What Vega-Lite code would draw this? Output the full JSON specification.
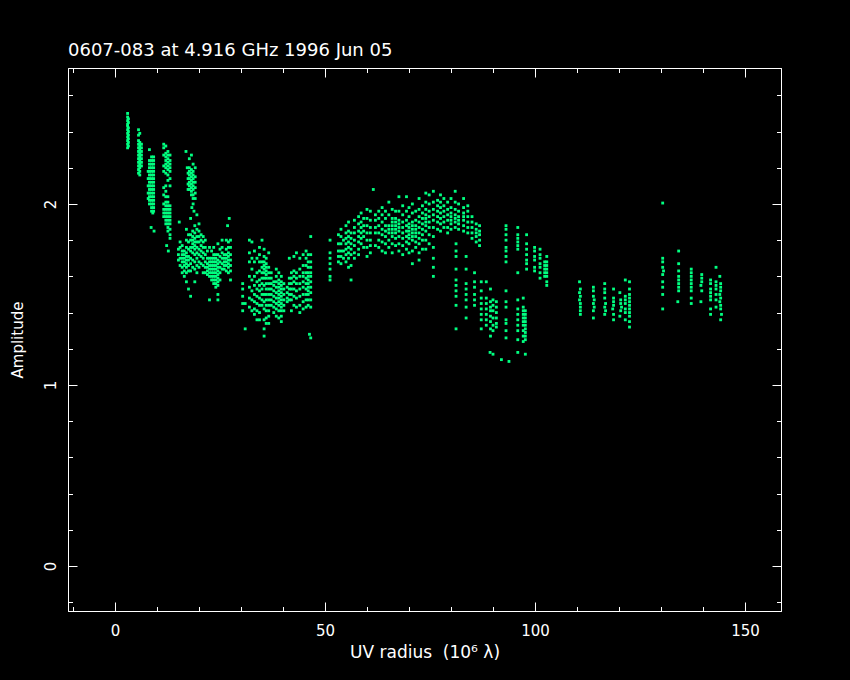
{"$schema":"https://vega.github.io/schema/vega-lite/v6.json","width":713,"height":543,"autosize":"none","padding":{"left":68,"top":68,"right":69,"bottom":69},"background":"#000000","title":{"text":"0607-083 at 4.916 GHz 1996 Jun 05","anchor":"start","frame":"group","color":"#ffffff","font":"DejaVu Sans","fontSize":18,"fontWeight":"normal","offset":8},"config":{"view":{"stroke":"#ffffff","strokeWidth":1,"fill":"#000000"},"axis":{"grid":false,"domain":true,"domainColor":"#ffffff","domainWidth":1,"tickColor":"#ffffff","tickWidth":1,"labelColor":"#ffffff","titleColor":"#ffffff","labelFont":"DejaVu Sans","titleFont":"DejaVu Sans","labelFontSize":15,"titleFontSize":15,"titleFontWeight":"normal","labelFlush":false,"labelOverlap":false}},"resolve":{"axis":{"x":"independent","y":"independent"}},"layer":[{"data":{"values":[
{"r":3.0,"a":2.5},{"r":3.0,"a":2.48},{"r":3.0,"a":2.46},{"r":3.0,"a":2.44},{"r":3.0,"a":2.43},{"r":3.0,"a":2.41},{"r":3.0,"a":2.39},{"r":3.0,"a":2.37},{"r":3.0,"a":2.35},{"r":3.0,"a":2.33},{"r":3.0,"a":2.31},{"r":3.2,"a":2.47},{"r":3.2,"a":2.45},{"r":3.2,"a":2.42},{"r":3.2,"a":2.4},{"r":3.2,"a":2.38},{"r":3.2,"a":2.36},{"r":3.2,"a":2.34},{"r":3.2,"a":2.32},
{"r":5.6,"a":2.41},{"r":5.6,"a":2.38},{"r":5.6,"a":2.35},{"r":5.6,"a":2.33},{"r":5.6,"a":2.31},{"r":5.6,"a":2.29},{"r":5.6,"a":2.27},{"r":5.6,"a":2.25},{"r":5.6,"a":2.23},{"r":5.6,"a":2.21},{"r":5.6,"a":2.19},{"r":5.6,"a":2.17},{"r":5.9,"a":2.39},{"r":5.9,"a":2.34},{"r":5.9,"a":2.32},{"r":5.9,"a":2.3},{"r":5.9,"a":2.28},{"r":5.9,"a":2.26},{"r":5.9,"a":2.24},{"r":5.9,"a":2.22},{"r":5.9,"a":2.2},{"r":5.9,"a":2.18},{"r":5.9,"a":2.16},{"r":6.3,"a":2.33},{"r":6.3,"a":2.31},{"r":6.3,"a":2.29},{"r":6.3,"a":2.27},{"r":6.3,"a":2.25},{"r":6.3,"a":2.23},{"r":6.3,"a":2.21},
{"r":7.9,"a":2.18},{"r":7.9,"a":2.14},{"r":7.9,"a":2.1},{"r":7.9,"a":2.06},{"r":7.9,"a":2.03},{"r":8.2,"a":2.3},{"r":8.2,"a":2.24},{"r":8.2,"a":2.22},{"r":8.2,"a":2.2},{"r":8.2,"a":2.18},{"r":8.2,"a":2.16},{"r":8.2,"a":2.14},{"r":8.2,"a":2.12},{"r":8.2,"a":2.1},{"r":8.2,"a":2.08},{"r":8.2,"a":2.06},{"r":8.2,"a":2.04},{"r":8.2,"a":2.02},{"r":8.2,"a":2},{"r":8.7,"a":2.26},{"r":8.7,"a":2.24},{"r":8.7,"a":2.22},{"r":8.7,"a":2.2},{"r":8.7,"a":2.18},{"r":8.7,"a":2.16},{"r":8.7,"a":2.14},{"r":8.7,"a":2.12},{"r":8.7,"a":2.1},{"r":8.7,"a":2.08},{"r":8.7,"a":2.06},{"r":8.7,"a":2.04},{"r":8.7,"a":2.02},{"r":8.7,"a":2},{"r":8.7,"a":1.98},{"r":8.7,"a":1.96},{"r":9.2,"a":2.26},{"r":9.2,"a":2.24},{"r":9.2,"a":2.22},{"r":9.2,"a":2.2},{"r":9.2,"a":2.18},{"r":9.2,"a":2.16},{"r":9.2,"a":2.14},{"r":9.2,"a":2.12},{"r":9.2,"a":2.1},{"r":9.2,"a":2.08},{"r":9.2,"a":2.06},{"r":9.2,"a":2.04},{"r":9.2,"a":2.02},{"r":9.2,"a":2},{"r":9.2,"a":1.98},{"r":9.2,"a":1.96},{"r":8.6,"a":1.87},{"r":9.3,"a":1.85},{"r":9.0,"a":1.95},
{"r":11.6,"a":2.33},{"r":11.6,"a":2.31},{"r":11.6,"a":2.27},{"r":11.6,"a":2.21},{"r":11.6,"a":2.18},{"r":11.6,"a":2.09},{"r":11.6,"a":2.05},{"r":11.6,"a":2},{"r":11.6,"a":1.97},{"r":11.6,"a":1.95},{"r":11.6,"a":1.93},{"r":12.1,"a":2.32},{"r":12.1,"a":2.28},{"r":12.1,"a":2.26},{"r":12.1,"a":2.24},{"r":12.1,"a":2.22},{"r":12.1,"a":2.2},{"r":12.1,"a":2.17},{"r":12.1,"a":2.1},{"r":12.1,"a":2.07},{"r":12.1,"a":2.04},{"r":12.1,"a":2.01},{"r":12.1,"a":1.99},{"r":12.1,"a":1.97},{"r":12.1,"a":1.95},{"r":12.1,"a":1.93},{"r":12.1,"a":1.91},{"r":12.1,"a":1.89},{"r":12.6,"a":2.29},{"r":12.6,"a":2.27},{"r":12.6,"a":2.25},{"r":12.6,"a":2.23},{"r":12.6,"a":2.21},{"r":12.6,"a":2.19},{"r":12.6,"a":2.16},{"r":12.6,"a":2.13},{"r":12.6,"a":2.04},{"r":12.6,"a":2.01},{"r":12.6,"a":1.99},{"r":12.6,"a":1.97},{"r":12.6,"a":1.95},{"r":12.6,"a":1.93},{"r":12.6,"a":1.91},{"r":12.6,"a":1.89},{"r":12.6,"a":1.87},{"r":12.6,"a":1.85},{"r":13.1,"a":2.27},{"r":13.1,"a":2.24},{"r":13.1,"a":2.22},{"r":13.1,"a":2.2},{"r":13.1,"a":2.18},{"r":13.1,"a":2.14},{"r":13.1,"a":2.1},{"r":13.1,"a":1.99},{"r":13.1,"a":1.97},{"r":13.1,"a":1.95},{"r":13.1,"a":1.93},{"r":13.1,"a":1.91},{"r":13.1,"a":1.89},{"r":13.1,"a":1.86},{"r":13.1,"a":1.83},{"r":13.1,"a":1.81},{"r":12.3,"a":1.77},{"r":12.7,"a":1.74},
{"r":16.9,"a":2.29},{"r":17.2,"a":2.2},{"r":17.4,"a":2.17},{"r":17.4,"a":2.14},{"r":17.4,"a":2.11},{"r":17.4,"a":2.08},{"r":17.7,"a":2.25},{"r":17.7,"a":2.2},{"r":17.7,"a":2.18},{"r":17.7,"a":2.16},{"r":17.7,"a":2.14},{"r":17.7,"a":2.12},{"r":17.7,"a":2.1},{"r":17.7,"a":2.08},{"r":18.2,"a":2.27},{"r":18.2,"a":2.19},{"r":18.2,"a":2.17},{"r":18.2,"a":2.15},{"r":18.2,"a":2.13},{"r":18.2,"a":2.11},{"r":18.2,"a":2.09},{"r":18.2,"a":2.07},{"r":18.2,"a":2.05},{"r":18.6,"a":2.22},{"r":18.6,"a":2.18},{"r":18.6,"a":2.16},{"r":18.6,"a":2.14},{"r":18.6,"a":2.12},{"r":18.6,"a":2.1},{"r":18.6,"a":2.08},{"r":18.6,"a":2.05},{"r":18.6,"a":2.03},{"r":18.6,"a":2},{"r":19.1,"a":2.2},{"r":19.1,"a":2.15},{"r":19.1,"a":2.12},{"r":19.1,"a":2.09},{"r":19.1,"a":2.06},{"r":19.1,"a":2.03},{"r":18.3,"a":1.98},{"r":18.8,"a":1.96},
{"r":15.1,"a":1.75},{"r":15.1,"a":1.72},{"r":15.1,"a":1.69},{"r":15.3,"a":1.9},{"r":15.5,"a":1.79},{"r":15.5,"a":1.76},{"r":15.5,"a":1.7},{"r":15.5,"a":1.66},{"r":16,"a":1.77},{"r":16,"a":1.74},{"r":16,"a":1.72},{"r":16,"a":1.7},{"r":16,"a":1.68},{"r":16,"a":1.65},{"r":16,"a":1.62},{"r":16.5,"a":1.74},{"r":16.5,"a":1.72},{"r":16.5,"a":1.7},{"r":16.5,"a":1.68},{"r":16.5,"a":1.66},{"r":16.5,"a":1.63},{"r":16.5,"a":1.6},{"r":17,"a":1.86},{"r":17,"a":1.8},{"r":17,"a":1.76},{"r":17,"a":1.73},{"r":17,"a":1.71},{"r":17,"a":1.69},{"r":17,"a":1.67},{"r":17,"a":1.65},{"r":17,"a":1.62},{"r":17,"a":1.57},{"r":17.5,"a":1.83},{"r":17.5,"a":1.79},{"r":17.5,"a":1.75},{"r":17.5,"a":1.71},{"r":17.5,"a":1.69},{"r":17.5,"a":1.66},{"r":17.5,"a":1.63},{"r":17.5,"a":1.53},{"r":18,"a":1.92},{"r":18,"a":1.83},{"r":18,"a":1.8},{"r":18,"a":1.76},{"r":18,"a":1.74},{"r":18,"a":1.7},{"r":18,"a":1.67},{"r":18,"a":1.63},{"r":18,"a":1.49},{"r":18.5,"a":1.85},{"r":18.5,"a":1.82},{"r":18.5,"a":1.8},{"r":18.5,"a":1.78},{"r":18.5,"a":1.76},{"r":18.5,"a":1.73},{"r":18.5,"a":1.69},{"r":18.5,"a":1.65},{"r":19,"a":1.88},{"r":19,"a":1.84},{"r":19,"a":1.81},{"r":19,"a":1.79},{"r":19,"a":1.77},{"r":19,"a":1.75},{"r":19,"a":1.72},{"r":19,"a":1.68},{"r":19,"a":1.64},{"r":19,"a":1.57},{"r":19.5,"a":1.94},{"r":19.5,"a":1.86},{"r":19.5,"a":1.82},{"r":19.5,"a":1.79},{"r":19.5,"a":1.76},{"r":19.5,"a":1.73},{"r":19.5,"a":1.7},{"r":19.5,"a":1.66},{"r":19.5,"a":1.62},{"r":20,"a":1.89},{"r":20,"a":1.85},{"r":20,"a":1.82},{"r":20,"a":1.79},{"r":20,"a":1.75},{"r":20,"a":1.72},{"r":20,"a":1.68},{"r":20,"a":1.65},{"r":20.5,"a":1.83},{"r":20.5,"a":1.8},{"r":20.5,"a":1.77},{"r":20.5,"a":1.74},{"r":20.5,"a":1.71},{"r":20.5,"a":1.67},{"r":21,"a":1.82},{"r":21,"a":1.79},{"r":21,"a":1.76},{"r":21,"a":1.73},{"r":21,"a":1.7},{"r":21,"a":1.66},{"r":21,"a":1.62},{"r":21.5,"a":1.8},{"r":21.5,"a":1.76},{"r":21.5,"a":1.72},{"r":21.5,"a":1.68},{"r":21.5,"a":1.65},{"r":21.5,"a":1.62},{"r":22,"a":1.74},{"r":22,"a":1.7},{"r":22,"a":1.67},{"r":22,"a":1.65},{"r":22,"a":1.63},{"r":22,"a":1.61},{"r":22.5,"a":1.76},{"r":22.5,"a":1.7},{"r":22.5,"a":1.68},{"r":22.5,"a":1.66},{"r":22.5,"a":1.64},{"r":22.5,"a":1.62},{"r":22.5,"a":1.6},{"r":22.5,"a":1.47},{"r":23,"a":1.74},{"r":23,"a":1.7},{"r":23,"a":1.68},{"r":23,"a":1.66},{"r":23,"a":1.64},{"r":23,"a":1.62},{"r":23,"a":1.6},{"r":23,"a":1.58},{"r":23.5,"a":1.76},{"r":23.5,"a":1.72},{"r":23.5,"a":1.7},{"r":23.5,"a":1.68},{"r":23.5,"a":1.66},{"r":23.5,"a":1.64},{"r":23.5,"a":1.62},{"r":23.5,"a":1.6},{"r":23.5,"a":1.58},{"r":23.5,"a":1.56},{"r":24,"a":1.72},{"r":24,"a":1.7},{"r":24,"a":1.68},{"r":24,"a":1.66},{"r":24,"a":1.64},{"r":24,"a":1.62},{"r":24,"a":1.6},{"r":24,"a":1.58},{"r":24,"a":1.56},{"r":24,"a":1.54},{"r":24.5,"a":1.78},{"r":24.5,"a":1.72},{"r":24.5,"a":1.69},{"r":24.5,"a":1.67},{"r":24.5,"a":1.65},{"r":24.5,"a":1.63},{"r":24.5,"a":1.61},{"r":24.5,"a":1.59},{"r":24.5,"a":1.57},{"r":24.5,"a":1.55},{"r":24.5,"a":1.5},{"r":24.5,"a":1.47},{"r":25,"a":1.75},{"r":25,"a":1.71},{"r":25,"a":1.68},{"r":25,"a":1.65},{"r":25,"a":1.62},{"r":25,"a":1.58},{"r":25.5,"a":1.8},{"r":25.5,"a":1.76},{"r":25.5,"a":1.73},{"r":25.5,"a":1.7},{"r":25.5,"a":1.67},{"r":25.5,"a":1.64},{"r":26,"a":1.72},{"r":26,"a":1.7},{"r":26,"a":1.68},{"r":26,"a":1.66},{"r":26,"a":1.64},{"r":26.5,"a":1.8},{"r":26.5,"a":1.75},{"r":26.5,"a":1.72},{"r":26.5,"a":1.7},{"r":26.5,"a":1.68},{"r":26.5,"a":1.66},{"r":26.5,"a":1.63},{"r":27,"a":1.79},{"r":27,"a":1.76},{"r":27,"a":1.73},{"r":27,"a":1.71},{"r":27,"a":1.69},{"r":27,"a":1.67},{"r":27,"a":1.65},{"r":27,"a":1.62},{"r":27.5,"a":1.8},{"r":27.5,"a":1.76},{"r":27.5,"a":1.72},{"r":27.5,"a":1.69},{"r":27.5,"a":1.66},{"r":27.5,"a":1.63},{"r":27.5,"a":1.58},{"r":27.2,"a":1.92},{"r":26.8,"a":1.88},
{"r":30.4,"a":1.56},{"r":30.4,"a":1.53},{"r":30.4,"a":1.49},{"r":30.4,"a":1.45},{"r":30.4,"a":1.41},{"r":31,"a":1.45},{"r":31,"a":1.31},{"r":32,"a":1.8},{"r":32,"a":1.73},{"r":32,"a":1.68},{"r":32,"a":1.6},{"r":32,"a":1.54},{"r":32,"a":1.48},{"r":32,"a":1.43},{"r":32.6,"a":1.79},{"r":32.6,"a":1.7},{"r":32.6,"a":1.64},{"r":32.6,"a":1.58},{"r":32.6,"a":1.52},{"r":32.6,"a":1.47},{"r":32.6,"a":1.41},{"r":33.2,"a":1.74},{"r":33.2,"a":1.68},{"r":33.2,"a":1.6},{"r":33.2,"a":1.55},{"r":33.2,"a":1.5},{"r":33.2,"a":1.46},{"r":33.2,"a":1.42},{"r":33.2,"a":1.39},{"r":33.8,"a":1.7},{"r":33.8,"a":1.62},{"r":33.8,"a":1.57},{"r":33.8,"a":1.53},{"r":33.8,"a":1.49},{"r":33.8,"a":1.45},{"r":33.8,"a":1.41},{"r":33.8,"a":1.36},{"r":34.4,"a":1.76},{"r":34.4,"a":1.72},{"r":34.4,"a":1.68},{"r":34.4,"a":1.63},{"r":34.4,"a":1.58},{"r":34.4,"a":1.55},{"r":34.4,"a":1.52},{"r":34.4,"a":1.48},{"r":34.4,"a":1.44},{"r":34.4,"a":1.4},{"r":34.4,"a":1.36},{"r":35,"a":1.8},{"r":35,"a":1.68},{"r":35,"a":1.65},{"r":35,"a":1.62},{"r":35,"a":1.59},{"r":35,"a":1.56},{"r":35,"a":1.53},{"r":35,"a":1.5},{"r":35,"a":1.47},{"r":35,"a":1.44},{"r":35.5,"a":1.75},{"r":35.5,"a":1.71},{"r":35.5,"a":1.68},{"r":35.5,"a":1.66},{"r":35.5,"a":1.64},{"r":35.5,"a":1.62},{"r":35.5,"a":1.59},{"r":35.5,"a":1.55},{"r":35.5,"a":1.5},{"r":35.5,"a":1.46},{"r":35.5,"a":1.42},{"r":35.5,"a":1.36},{"r":35.5,"a":1.31},{"r":35.5,"a":1.27},{"r":36,"a":1.7},{"r":36,"a":1.67},{"r":36,"a":1.65},{"r":36,"a":1.63},{"r":36,"a":1.61},{"r":36,"a":1.59},{"r":36,"a":1.56},{"r":36,"a":1.53},{"r":36,"a":1.5},{"r":36,"a":1.47},{"r":36,"a":1.44},{"r":36,"a":1.41},{"r":36,"a":1.37},{"r":36,"a":1.34},{"r":36.6,"a":1.73},{"r":36.6,"a":1.65},{"r":36.6,"a":1.62},{"r":36.6,"a":1.59},{"r":36.6,"a":1.56},{"r":36.6,"a":1.53},{"r":36.6,"a":1.5},{"r":36.6,"a":1.47},{"r":36.6,"a":1.44},{"r":36.6,"a":1.41},{"r":36.6,"a":1.38},{"r":36.6,"a":1.34},{"r":37.2,"a":1.62},{"r":37.2,"a":1.59},{"r":37.2,"a":1.56},{"r":37.2,"a":1.53},{"r":37.2,"a":1.5},{"r":37.2,"a":1.47},{"r":37.2,"a":1.44},{"r":37.8,"a":1.57},{"r":37.8,"a":1.55},{"r":37.8,"a":1.52},{"r":37.8,"a":1.49},{"r":37.8,"a":1.46},{"r":37.8,"a":1.43},{"r":37.8,"a":1.4},{"r":38.4,"a":1.64},{"r":38.4,"a":1.6},{"r":38.4,"a":1.57},{"r":38.4,"a":1.54},{"r":38.4,"a":1.51},{"r":38.4,"a":1.48},{"r":38.4,"a":1.45},{"r":38.4,"a":1.42},{"r":38.4,"a":1.38},{"r":39,"a":1.62},{"r":39,"a":1.58},{"r":39,"a":1.56},{"r":39,"a":1.54},{"r":39,"a":1.52},{"r":39,"a":1.5},{"r":39,"a":1.48},{"r":39,"a":1.46},{"r":39,"a":1.44},{"r":39,"a":1.41},{"r":39,"a":1.37},{"r":39.6,"a":1.6},{"r":39.6,"a":1.57},{"r":39.6,"a":1.55},{"r":39.6,"a":1.53},{"r":39.6,"a":1.51},{"r":39.6,"a":1.49},{"r":39.6,"a":1.47},{"r":39.6,"a":1.45},{"r":39.6,"a":1.43},{"r":39.6,"a":1.41},{"r":39.6,"a":1.38},{"r":39.6,"a":1.35},{"r":40.2,"a":1.56},{"r":40.2,"a":1.53},{"r":40.2,"a":1.5},{"r":40.2,"a":1.47},{"r":40.2,"a":1.44},{"r":40.2,"a":1.41},{"r":41,"a":1.54},{"r":41,"a":1.51},{"r":41,"a":1.48},{"r":41,"a":1.46},{"r":41.5,"a":1.7},{"r":41.5,"a":1.59},{"r":41.5,"a":1.56},{"r":41.5,"a":1.53},{"r":41.5,"a":1.5},{"r":41.5,"a":1.47},{"r":42,"a":1.62},{"r":42,"a":1.59},{"r":42,"a":1.56},{"r":42,"a":1.53},{"r":42,"a":1.5},{"r":42,"a":1.47},{"r":42,"a":1.41},{"r":42.6,"a":1.71},{"r":42.6,"a":1.63},{"r":42.6,"a":1.6},{"r":42.6,"a":1.57},{"r":42.6,"a":1.53},{"r":42.6,"a":1.49},{"r":42.6,"a":1.44},{"r":43.2,"a":1.73},{"r":43.2,"a":1.62},{"r":43.2,"a":1.59},{"r":43.2,"a":1.56},{"r":43.2,"a":1.52},{"r":43.2,"a":1.48},{"r":43.2,"a":1.43},{"r":44,"a":1.7},{"r":44,"a":1.64},{"r":44,"a":1.6},{"r":44,"a":1.56},{"r":44,"a":1.53},{"r":44,"a":1.49},{"r":44,"a":1.44},{"r":44,"a":1.4},{"r":44.8,"a":1.72},{"r":44.8,"a":1.66},{"r":44.8,"a":1.62},{"r":44.8,"a":1.6},{"r":44.8,"a":1.57},{"r":44.8,"a":1.54},{"r":44.8,"a":1.5},{"r":44.8,"a":1.46},{"r":44.8,"a":1.42},{"r":45.5,"a":1.74},{"r":45.5,"a":1.7},{"r":45.5,"a":1.66},{"r":45.5,"a":1.62},{"r":45.5,"a":1.59},{"r":45.5,"a":1.56},{"r":45.5,"a":1.53},{"r":45.5,"a":1.5},{"r":45.5,"a":1.47},{"r":45.5,"a":1.43},{"r":46,"a":1.72},{"r":46,"a":1.68},{"r":46,"a":1.65},{"r":46,"a":1.62},{"r":46,"a":1.6},{"r":46,"a":1.58},{"r":46,"a":1.56},{"r":46,"a":1.54},{"r":46,"a":1.52},{"r":46,"a":1.5},{"r":46,"a":1.47},{"r":46,"a":1.44},{"r":46.6,"a":1.82},{"r":46.6,"a":1.72},{"r":46.6,"a":1.68},{"r":46.6,"a":1.65},{"r":46.6,"a":1.62},{"r":46.6,"a":1.6},{"r":46.6,"a":1.57},{"r":46.6,"a":1.54},{"r":46.6,"a":1.51},{"r":46.6,"a":1.47},{"r":46.6,"a":1.43},{"r":46.3,"a":1.28},{"r":46.6,"a":1.26},
{"r":51.2,"a":1.8},{"r":51.2,"a":1.73},{"r":51.2,"a":1.7},{"r":51.2,"a":1.67},{"r":51.2,"a":1.64},{"r":51.2,"a":1.6},{"r":51.2,"a":1.58},{"r":53.2,"a":1.83},{"r":53.2,"a":1.78},{"r":53.2,"a":1.74},{"r":53.2,"a":1.71},{"r":53.2,"a":1.68},{"r":53.8,"a":1.86},{"r":53.8,"a":1.82},{"r":53.8,"a":1.78},{"r":53.8,"a":1.74},{"r":53.8,"a":1.71},{"r":53.8,"a":1.67},{"r":54.4,"a":1.8},{"r":54.4,"a":1.74},{"r":54.4,"a":1.7},{"r":55,"a":1.88},{"r":55,"a":1.84},{"r":55,"a":1.81},{"r":55,"a":1.78},{"r":55,"a":1.75},{"r":55,"a":1.72},{"r":55,"a":1.68},{"r":55.6,"a":1.9},{"r":55.6,"a":1.85},{"r":55.6,"a":1.82},{"r":55.6,"a":1.79},{"r":55.6,"a":1.76},{"r":55.6,"a":1.73},{"r":55.6,"a":1.7},{"r":55.6,"a":1.65},{"r":56.2,"a":1.84},{"r":56.2,"a":1.81},{"r":56.2,"a":1.78},{"r":56.2,"a":1.75},{"r":56.2,"a":1.72},{"r":56.2,"a":1.66},{"r":56.2,"a":1.58},{"r":57,"a":1.91},{"r":57,"a":1.87},{"r":57,"a":1.84},{"r":57,"a":1.8},{"r":57,"a":1.77},{"r":57,"a":1.73},{"r":57,"a":1.7},{"r":58,"a":1.93},{"r":58,"a":1.89},{"r":58,"a":1.85},{"r":58,"a":1.82},{"r":58,"a":1.79},{"r":58,"a":1.75},{"r":58,"a":1.72},{"r":58.6,"a":1.95},{"r":58.6,"a":1.9},{"r":58.6,"a":1.87},{"r":58.6,"a":1.84},{"r":58.6,"a":1.81},{"r":58.6,"a":1.78},{"r":59.2,"a":1.92},{"r":59.2,"a":1.88},{"r":59.2,"a":1.85},{"r":59.2,"a":1.82},{"r":59.2,"a":1.76},{"r":60,"a":1.97},{"r":60,"a":1.92},{"r":60,"a":1.88},{"r":60,"a":1.84},{"r":60,"a":1.8},{"r":60,"a":1.76},{"r":60,"a":1.71},{"r":60.8,"a":1.96},{"r":60.8,"a":1.91},{"r":60.8,"a":1.87},{"r":60.8,"a":1.84},{"r":60.8,"a":1.8},{"r":60.8,"a":1.77},{"r":60.8,"a":1.73},{"r":61.5,"a":2.08},{"r":62,"a":1.94},{"r":62,"a":1.91},{"r":62,"a":1.87},{"r":62,"a":1.84},{"r":62,"a":1.77},{"r":62.8,"a":1.96},{"r":62.8,"a":1.92},{"r":62.8,"a":1.88},{"r":62.8,"a":1.84},{"r":62.8,"a":1.8},{"r":62.8,"a":1.76},{"r":63.6,"a":1.98},{"r":63.6,"a":1.94},{"r":63.6,"a":1.9},{"r":63.6,"a":1.86},{"r":63.6,"a":1.83},{"r":63.6,"a":1.79},{"r":63.6,"a":1.74},{"r":64.4,"a":1.96},{"r":64.4,"a":1.92},{"r":64.4,"a":1.88},{"r":64.4,"a":1.85},{"r":64.4,"a":1.82},{"r":64.4,"a":1.78},{"r":64.4,"a":1.73},{"r":65.2,"a":2.01},{"r":65.2,"a":1.94},{"r":65.2,"a":1.88},{"r":65.2,"a":1.86},{"r":65.2,"a":1.84},{"r":65.2,"a":1.8},{"r":65.2,"a":1.76},{"r":66,"a":1.97},{"r":66,"a":1.92},{"r":66,"a":1.9},{"r":66,"a":1.88},{"r":66,"a":1.86},{"r":66,"a":1.84},{"r":66,"a":1.82},{"r":66,"a":1.78},{"r":66,"a":1.73},{"r":66.8,"a":1.96},{"r":66.8,"a":1.92},{"r":66.8,"a":1.9},{"r":66.8,"a":1.88},{"r":66.8,"a":1.86},{"r":66.8,"a":1.84},{"r":66.8,"a":1.81},{"r":66.8,"a":1.77},{"r":67.6,"a":2.04},{"r":67.6,"a":1.96},{"r":67.6,"a":1.91},{"r":67.6,"a":1.89},{"r":67.6,"a":1.87},{"r":67.6,"a":1.85},{"r":67.6,"a":1.82},{"r":67.6,"a":1.78},{"r":67.6,"a":1.74},{"r":68.5,"a":1.99},{"r":68.5,"a":1.94},{"r":68.5,"a":1.9},{"r":68.5,"a":1.87},{"r":68.5,"a":1.84},{"r":68.5,"a":1.81},{"r":68.5,"a":1.77},{"r":68.5,"a":1.72},{"r":69.4,"a":2.04},{"r":69.4,"a":1.96},{"r":69.4,"a":1.91},{"r":69.4,"a":1.88},{"r":69.4,"a":1.85},{"r":69.4,"a":1.82},{"r":69.4,"a":1.79},{"r":69.4,"a":1.75},{"r":70,"a":1.98},{"r":70,"a":1.93},{"r":70,"a":1.89},{"r":70,"a":1.87},{"r":70,"a":1.85},{"r":70,"a":1.83},{"r":70,"a":1.81},{"r":70,"a":1.78},{"r":70,"a":1.73},{"r":70.8,"a":2},{"r":70.8,"a":1.95},{"r":70.8,"a":1.9},{"r":70.8,"a":1.88},{"r":70.8,"a":1.86},{"r":70.8,"a":1.84},{"r":70.8,"a":1.82},{"r":70.8,"a":1.8},{"r":70.8,"a":1.74},{"r":70.8,"a":1.67},{"r":71.6,"a":1.96},{"r":71.6,"a":1.91},{"r":71.6,"a":1.88},{"r":71.6,"a":1.86},{"r":71.6,"a":1.84},{"r":71.6,"a":1.82},{"r":71.6,"a":1.79},{"r":71.6,"a":1.76},{"r":72.4,"a":2.03},{"r":72.4,"a":1.97},{"r":72.4,"a":1.93},{"r":72.4,"a":1.9},{"r":72.4,"a":1.87},{"r":72.4,"a":1.84},{"r":72.4,"a":1.81},{"r":72.4,"a":1.78},{"r":72.4,"a":1.73},{"r":72.4,"a":1.69},{"r":73.2,"a":1.99},{"r":73.2,"a":1.95},{"r":73.2,"a":1.92},{"r":73.2,"a":1.89},{"r":73.2,"a":1.86},{"r":73.2,"a":1.83},{"r":73.2,"a":1.8},{"r":73.2,"a":1.75},{"r":74,"a":2.06},{"r":74,"a":2.01},{"r":74,"a":1.97},{"r":74,"a":1.94},{"r":74,"a":1.92},{"r":74,"a":1.9},{"r":74,"a":1.88},{"r":74,"a":1.85},{"r":74,"a":1.8},{"r":74,"a":1.75},{"r":74.8,"a":2.05},{"r":74.8,"a":2},{"r":74.8,"a":1.96},{"r":74.8,"a":1.93},{"r":74.8,"a":1.9},{"r":74.8,"a":1.87},{"r":74.8,"a":1.83},{"r":74.8,"a":1.78},{"r":75.8,"a":2.07},{"r":75.8,"a":2.01},{"r":75.8,"a":1.97},{"r":75.8,"a":1.94},{"r":75.8,"a":1.91},{"r":75.8,"a":1.87},{"r":75.8,"a":1.82},{"r":75.8,"a":1.76},{"r":75.8,"a":1.7},{"r":75.8,"a":1.65},{"r":75.8,"a":1.6},{"r":76.8,"a":2.02},{"r":76.8,"a":1.99},{"r":76.8,"a":1.96},{"r":76.8,"a":1.93},{"r":76.8,"a":1.9},{"r":76.8,"a":1.86},{"r":77.5,"a":2.05},{"r":77.5,"a":2.01},{"r":77.5,"a":1.98},{"r":77.5,"a":1.95},{"r":77.5,"a":1.92},{"r":77.5,"a":1.89},{"r":77.5,"a":1.85},{"r":78.3,"a":2.03},{"r":78.3,"a":1.99},{"r":78.3,"a":1.96},{"r":78.3,"a":1.93},{"r":78.3,"a":1.9},{"r":78.3,"a":1.87},{"r":79.2,"a":2.01},{"r":79.2,"a":1.97},{"r":79.2,"a":1.94},{"r":79.2,"a":1.91},{"r":79.2,"a":1.87},{"r":79.2,"a":1.84},{"r":80,"a":2.03},{"r":80,"a":1.98},{"r":80,"a":1.95},{"r":80,"a":1.93},{"r":80,"a":1.91},{"r":80,"a":1.89},{"r":80,"a":1.86},{"r":81,"a":2.07},{"r":81,"a":2.01},{"r":81,"a":1.97},{"r":81,"a":1.94},{"r":81,"a":1.92},{"r":81,"a":1.9},{"r":81,"a":1.87},{"r":81.8,"a":2},{"r":81.8,"a":1.96},{"r":81.8,"a":1.93},{"r":81.8,"a":1.91},{"r":81.8,"a":1.89},{"r":81.8,"a":1.86},{"r":83,"a":2.03},{"r":83,"a":1.98},{"r":83,"a":1.95},{"r":83,"a":1.93},{"r":83,"a":1.91},{"r":83,"a":1.88},{"r":83,"a":1.85},{"r":84,"a":1.99},{"r":84,"a":1.96},{"r":84,"a":1.93},{"r":84,"a":1.9},{"r":84,"a":1.87},{"r":84,"a":1.84},{"r":85,"a":1.93},{"r":85,"a":1.9},{"r":85,"a":1.87},{"r":85,"a":1.84},{"r":85,"a":1.81},{"r":86,"a":1.89},{"r":86,"a":1.86},{"r":86,"a":1.84},{"r":86,"a":1.82},{"r":86,"a":1.79},{"r":86.8,"a":1.88},{"r":86.8,"a":1.85},{"r":86.8,"a":1.83},{"r":86.8,"a":1.8},{"r":86.8,"a":1.77},
{"r":81.2,"a":1.78},{"r":81.2,"a":1.74},{"r":81.2,"a":1.71},{"r":81.2,"a":1.64},{"r":81.2,"a":1.58},{"r":81.2,"a":1.55},{"r":81.2,"a":1.52},{"r":81.2,"a":1.49},{"r":81.2,"a":1.44},{"r":81.2,"a":1.31},{"r":83.6,"a":1.71},{"r":83.6,"a":1.64},{"r":83.6,"a":1.56},{"r":83.6,"a":1.53},{"r":83.6,"a":1.5},{"r":83.6,"a":1.47},{"r":83.6,"a":1.43},{"r":83.6,"a":1.37},{"r":85.6,"a":1.62},{"r":85.6,"a":1.57},{"r":85.6,"a":1.54},{"r":85.6,"a":1.5},{"r":85.6,"a":1.47},{"r":85.6,"a":1.44},{"r":87.2,"a":1.57},{"r":87.2,"a":1.52},{"r":87.2,"a":1.48},{"r":87.2,"a":1.45},{"r":87.2,"a":1.42},{"r":87.2,"a":1.39},{"r":87.2,"a":1.36},{"r":87.2,"a":1.31},{"r":88.4,"a":1.57},{"r":88.4,"a":1.48},{"r":88.4,"a":1.45},{"r":88.4,"a":1.42},{"r":88.4,"a":1.39},{"r":88.4,"a":1.36},{"r":88.4,"a":1.33},{"r":89.4,"a":1.53},{"r":89.4,"a":1.46},{"r":89.4,"a":1.43},{"r":89.4,"a":1.41},{"r":89.4,"a":1.38},{"r":89.4,"a":1.35},{"r":89.4,"a":1.31},{"r":89.4,"a":1.27},{"r":90,"a":1.47},{"r":90,"a":1.44},{"r":90,"a":1.41},{"r":90,"a":1.37},{"r":90,"a":1.33},{"r":90,"a":1.3},{"r":90.8,"a":1.46},{"r":90.8,"a":1.43},{"r":90.8,"a":1.4},{"r":90.8,"a":1.37},{"r":90.8,"a":1.34},{"r":90.8,"a":1.32},{"r":89.3,"a":1.18},{"r":90,"a":1.17},
{"r":93.1,"a":1.88},{"r":93.1,"a":1.86},{"r":93.1,"a":1.83},{"r":93.1,"a":1.8},{"r":93.1,"a":1.76},{"r":93.1,"a":1.74},{"r":93.1,"a":1.71},{"r":93.1,"a":1.68},{"r":93.1,"a":1.52},{"r":93.1,"a":1.46},{"r":93.1,"a":1.43},{"r":93.1,"a":1.36},{"r":93.1,"a":1.34},{"r":93.1,"a":1.3},{"r":93.1,"a":1.26},{"r":95.9,"a":1.87},{"r":95.9,"a":1.83},{"r":95.9,"a":1.81},{"r":95.9,"a":1.79},{"r":95.9,"a":1.77},{"r":95.9,"a":1.75},{"r":95.9,"a":1.62},{"r":95.9,"a":1.47},{"r":95.9,"a":1.42},{"r":95.9,"a":1.39},{"r":95.9,"a":1.36},{"r":95.9,"a":1.33},{"r":95.9,"a":1.3},{"r":95.9,"a":1.25},{"r":95.9,"a":1.18},{"r":92,"a":1.14},{"r":93.8,"a":1.13},{"r":97.2,"a":1.48},{"r":97.2,"a":1.43},{"r":97.2,"a":1.41},{"r":97.2,"a":1.39},{"r":97.2,"a":1.37},{"r":97.2,"a":1.35},{"r":97.2,"a":1.33},{"r":97.2,"a":1.3},{"r":97.2,"a":1.27},{"r":97.2,"a":1.24},{"r":97.7,"a":1.41},{"r":97.7,"a":1.39},{"r":97.7,"a":1.37},{"r":97.7,"a":1.35},{"r":97.7,"a":1.33},{"r":97.7,"a":1.31},{"r":97.7,"a":1.29},{"r":97.7,"a":1.27},{"r":97.7,"a":1.25},{"r":97.7,"a":1.17},{"r":98,"a":1.83},{"r":98,"a":1.78},{"r":98,"a":1.75},{"r":98,"a":1.72},{"r":98,"a":1.69},{"r":98,"a":1.67},{"r":98,"a":1.64},{"r":99.9,"a":1.76},{"r":99.9,"a":1.74},{"r":99.9,"a":1.71},{"r":99.9,"a":1.69},{"r":99.9,"a":1.65},{"r":99.9,"a":1.63},{"r":101.2,"a":1.75},{"r":101.2,"a":1.72},{"r":101.2,"a":1.7},{"r":101.2,"a":1.67},{"r":101.2,"a":1.65},{"r":101.2,"a":1.62},{"r":101.2,"a":1.59},{"r":102.3,"a":1.68},{"r":102.3,"a":1.66},{"r":102.3,"a":1.64},{"r":102.3,"a":1.62},{"r":102.3,"a":1.6},{"r":102.8,"a":1.71},{"r":102.8,"a":1.68},{"r":102.8,"a":1.66},{"r":102.8,"a":1.64},{"r":102.8,"a":1.62},{"r":102.8,"a":1.6},{"r":102.8,"a":1.57},{"r":102.8,"a":1.55},
{"r":110.6,"a":1.57},{"r":110.8,"a":1.53},{"r":110.6,"a":1.51},{"r":110.8,"a":1.49},{"r":110.6,"a":1.47},{"r":110.8,"a":1.45},{"r":110.8,"a":1.43},{"r":110.8,"a":1.41},{"r":110.8,"a":1.39},{"r":113.9,"a":1.54},{"r":113.9,"a":1.52},{"r":113.9,"a":1.49},{"r":114.1,"a":1.47},{"r":113.9,"a":1.45},{"r":114.1,"a":1.43},{"r":113.9,"a":1.41},{"r":113.9,"a":1.37},{"r":116.6,"a":1.56},{"r":116.6,"a":1.53},{"r":116.6,"a":1.51},{"r":116.6,"a":1.48},{"r":116.8,"a":1.45},{"r":116.6,"a":1.43},{"r":116.8,"a":1.41},{"r":116.6,"a":1.39},{"r":118.7,"a":1.53},{"r":118.7,"a":1.48},{"r":118.7,"a":1.46},{"r":118.7,"a":1.44},{"r":118.5,"a":1.42},{"r":118.7,"a":1.39},{"r":118.7,"a":1.36},{"r":120.2,"a":1.51},{"r":120.4,"a":1.47},{"r":120.4,"a":1.45},{"r":120.6,"a":1.43},{"r":120.4,"a":1.41},{"r":120.2,"a":1.38},{"r":121.5,"a":1.58},{"r":121.5,"a":1.49},{"r":121.5,"a":1.47},{"r":121.5,"a":1.45},{"r":121.5,"a":1.42},{"r":121.5,"a":1.4},{"r":121.5,"a":1.36},{"r":122.5,"a":1.57},{"r":122.5,"a":1.53},{"r":122.5,"a":1.5},{"r":122.5,"a":1.48},{"r":122.5,"a":1.46},{"r":122.5,"a":1.44},{"r":122.5,"a":1.42},{"r":122.5,"a":1.4},{"r":122.5,"a":1.38},{"r":122.5,"a":1.35},{"r":122.5,"a":1.32},
{"r":130.4,"a":2.005},{"r":130.4,"a":1.7},{"r":130.4,"a":1.68},{"r":130.4,"a":1.65},{"r":130.6,"a":1.63},{"r":130.4,"a":1.61},{"r":130.4,"a":1.57},{"r":130.4,"a":1.54},{"r":130.4,"a":1.5},{"r":130.4,"a":1.42},{"r":134.2,"a":1.74},{"r":134.2,"a":1.67},{"r":134.2,"a":1.63},{"r":134.2,"a":1.6},{"r":134.2,"a":1.58},{"r":134.2,"a":1.56},{"r":134.2,"a":1.54},{"r":134.2,"a":1.52},{"r":134,"a":1.46},{"r":137.2,"a":1.64},{"r":137.2,"a":1.62},{"r":137.2,"a":1.6},{"r":137.2,"a":1.58},{"r":137.2,"a":1.56},{"r":137.2,"a":1.54},{"r":137.2,"a":1.52},{"r":137.2,"a":1.48},{"r":137.2,"a":1.45},{"r":139.7,"a":1.61},{"r":139.7,"a":1.59},{"r":139.7,"a":1.57},{"r":139.5,"a":1.55},{"r":139.7,"a":1.52},{"r":139.5,"a":1.46},{"r":141.8,"a":1.58},{"r":141.8,"a":1.56},{"r":141.8,"a":1.53},{"r":141.8,"a":1.51},{"r":141.8,"a":1.49},{"r":141.8,"a":1.47},{"r":141.8,"a":1.42},{"r":141.8,"a":1.39},{"r":143.1,"a":1.65},{"r":143.1,"a":1.57},{"r":143.1,"a":1.55},{"r":143.1,"a":1.53},{"r":143.1,"a":1.5},{"r":143.1,"a":1.47},{"r":143.1,"a":1.43},{"r":144,"a":1.6},{"r":144.2,"a":1.56},{"r":144.2,"a":1.54},{"r":144.2,"a":1.52},{"r":144,"a":1.5},{"r":144.2,"a":1.48},{"r":144,"a":1.46},{"r":144.2,"a":1.44},{"r":144.2,"a":1.42},{"r":144.4,"a":1.39},{"r":144.2,"a":1.36}
]},"mark":{"type":"point","shape":"square","filled":true,"size":8,"opacity":1,"color":"#00ff80"},"encoding":{"x":{"field":"r","type":"quantitative","scale":{"domain":[-11.19,158.57],"nice":false,"zero":false},"axis":{"orient":"bottom","values":[0,50,100,150],"tickSize":-9,"labelPadding":21,"title":"UV radius\u00a0\u00a0(10⁶ λ)","titleFontSize":17,"titlePadding":6}},"y":{"field":"a","type":"quantitative","scale":{"domain":[-0.2486,2.751],"nice":false,"zero":false},"axis":{"orient":"left","values":[0,1,2],"tickSize":-9,"labelAngle":-90,"labelAlign":"center","labelBaseline":"bottom","labelPadding":19,"title":"Amplitude","titlePadding":18}}}},{"data":{"values":[{"r":0,"a":0}]},"mark":{"type":"point","opacity":0},"encoding":{"x":{"field":"r","type":"quantitative","axis":{"orient":"bottom","values":[-10,10,20,30,40,60,70,80,90,110,120,130,140],"tickSize":-4.5,"labels":false,"title":null,"domain":false}},"y":{"field":"a","type":"quantitative","axis":{"orient":"left","values":[-0.2,0.2,0.4,0.6,0.8,1.2,1.4,1.6,1.8,2.2,2.4,2.6],"tickSize":-4.5,"labels":false,"title":null,"domain":false}}}},{"data":{"values":[{"r":0,"a":0}]},"mark":{"type":"point","opacity":0},"encoding":{"x":{"field":"r","type":"quantitative","axis":{"orient":"top","values":[0,50,100,150],"tickSize":-9,"labels":false,"title":null}},"y":{"field":"a","type":"quantitative","axis":{"orient":"right","values":[0,1,2],"tickSize":-9,"labels":false,"title":null}}}},{"data":{"values":[{"r":0,"a":0}]},"mark":{"type":"point","opacity":0},"encoding":{"x":{"field":"r","type":"quantitative","axis":{"orient":"top","values":[-10,10,20,30,40,60,70,80,90,110,120,130,140],"tickSize":-4.5,"labels":false,"title":null,"domain":false}},"y":{"field":"a","type":"quantitative","axis":{"orient":"right","values":[-0.2,0.2,0.4,0.6,0.8,1.2,1.4,1.6,1.8,2.2,2.4,2.6],"tickSize":-4.5,"labels":false,"title":null,"domain":false}}}}]}
